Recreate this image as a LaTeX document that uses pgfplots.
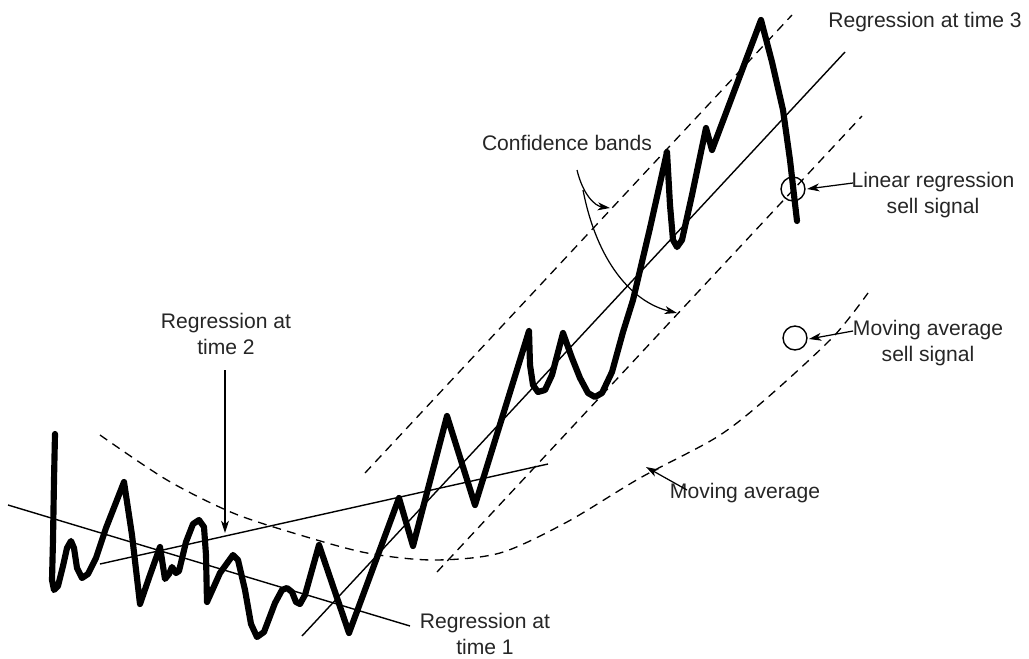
\documentclass[border=0pt]{standalone}
\usepackage{fontspec}
\setmainfont{Liberation Sans}
\usepackage{pgfplots}
\pgfplotsset{compat=1.18}
\usetikzlibrary{arrows.meta}
\begin{document}
\begin{tikzpicture}[
  lbl/.style={font=\fontsize{12}{14.3}\selectfont, align=center, text=black!85, inner sep=0pt},
  arr/.style={line width=0.7pt, -{Stealth[length=7pt,width=4.5pt,inset=2pt]}}]
\begin{axis}[
  scale only axis, width=20.58cm, height=13.16cm,
  xmin=0, xmax=1029, ymin=0, ymax=658, y dir=reverse,
  hide axis, clip=false]
\path (rel axis cs:0,0) rectangle (rel axis cs:1,1);

% regression lines (pixel-space coordinates)
\addplot[black, line width=0.8pt] coordinates {(8,505) (410,626)};
\addplot[black, line width=0.8pt] coordinates {(100,564) (548,464)};
\addplot[black, line width=0.8pt] coordinates {(302,636) (845,52)};

% confidence bands
\addplot[black, line width=0.75pt, dash pattern=on 5pt off 3.6pt] coordinates {(365,473) (792,15)};
\addplot[black, line width=0.75pt, dash pattern=on 5pt off 3.6pt] coordinates {(437,572) (862,116)};

% moving average
\addplot[black, line width=0.75pt, smooth, dash pattern=on 5pt off 3.6pt] coordinates {
  (100,435) (167,480) (233,513) (300,535) (367,553) (433,560) (500,553)
  (567,522) (640,478) (717,437) (767,398) (833,337) (868,293)};

% price
\addplot[black, line width=3.5pt, line cap=round, line join=round] coordinates {
  (55,434) (54,480) (53,540) (52,580) (54,590) (58,586) (63,566) (67,548) (71,541)
  (74,548) (77,568) (82,578) (88,574) (96,558) (106,528) (124,482) (132,535)
  (140,604) (150,575) (160,547) (165,579) (169,574) (172,567) (176,573) (179,571)
  (186,542) (193,524) (199,520) (204,527) (206,555) (207,602) (220,573) (233,555)
  (238,560) (245,590) (251,624) (257,637) (264,632) (275,603) (282,590) (287,588)
  (292,592) (296,602) (300,604) (305,595) (319,545) (349,633) (399,498) (413,546)
  (447,416) (475,505) (529,331) (530,365) (533,385) (538,392) (545,390) (552,375)
  (563,333) (572,358) (580,378) (588,393) (595,397) (602,393) (612,372) (623,332)
  (633,300) (650,228) (667,152) (670,205) (673,240) (677,247) (682,240) (692,195)
  (706,128) (712,150) (761,20) (772,62) (783,110) (790,160) (797,221)};

% sell signal circles
\addplot[only marks, mark=o, mark size=6.8pt, mark options={line width=0.8pt}] coordinates {(793,189) (795,338)};

% annotations
\draw[arr] (axis cs:225,370) -- (axis cs:225,533);
\node[lbl] at (axis cs:226,334) {Regression at\\time 2};
\node[lbl] at (axis cs:485,634) {Regression at\\time 1};
\node[lbl] at (axis cs:925,22) {Regression at time 3};
\node[lbl] at (axis cs:567,143) {Confidence bands};
\draw[arr] (axis cs:577,170) .. controls (axis cs:583,195) and (axis cs:595,206) .. (axis cs:610,208);
\draw[arr] (axis cs:583,190) .. controls (axis cs:597,262) and (axis cs:632,302) .. (axis cs:677,313);
\node[lbl] at (axis cs:933,195) {Linear regression\\sell signal};
\draw[arr] (axis cs:853,183) -- (axis cs:807,189);
\node[lbl] at (axis cs:928,343) {Moving average\\sell signal};
\draw[arr] (axis cs:853,331) -- (axis cs:809,339);
\node[lbl] at (axis cs:745,493) {Moving average};
\draw[arr] (axis cs:687,490) -- (axis cs:646,467);
\end{axis}
\end{tikzpicture}
\end{document}
